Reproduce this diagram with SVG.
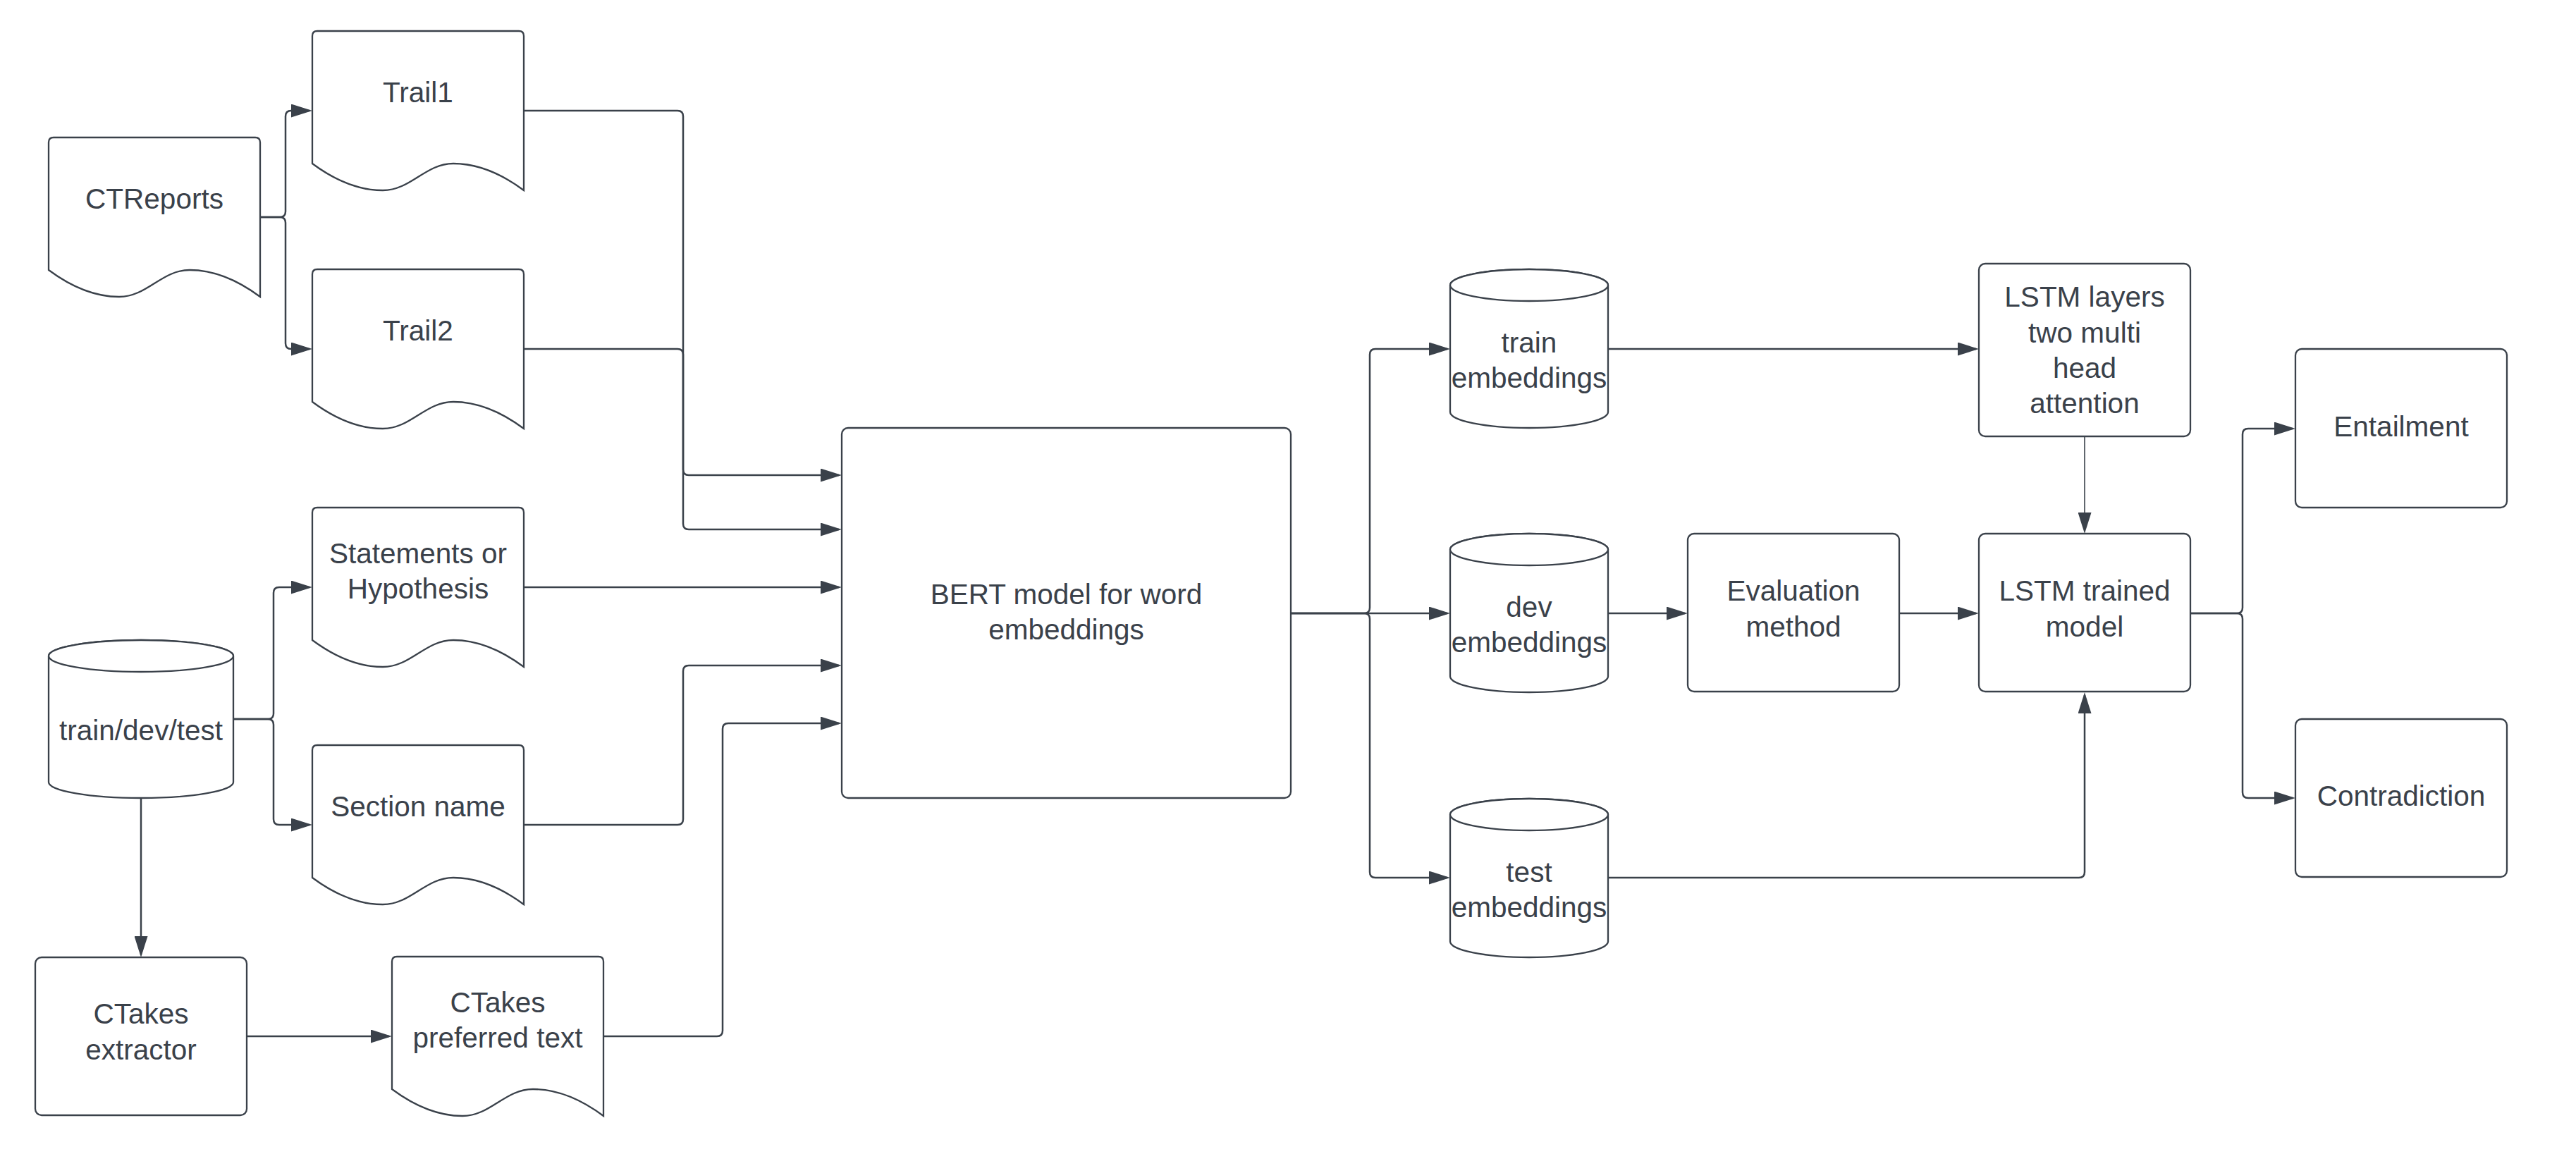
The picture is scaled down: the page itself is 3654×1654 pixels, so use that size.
<svg xmlns="http://www.w3.org/2000/svg" xmlns:xlink="http://www.w3.org/1999/xlink" width="3654" height="1654" viewBox="0 0 3654 1654">
  <style>
    .shape { fill: #ffffff; stroke: #3a414a; stroke-width: 2.3; }
    .conn { fill: none; stroke: #3a414a; stroke-width: 2.5; }
    .thin { stroke-width: 1.6; }
    text { font-family: "Liberation Sans", Arial, sans-serif; font-size: 40.5px; fill: #3a414a; text-anchor: middle; }
  </style>
  <defs>
    <!-- document shape: rounded top, wavy bottom edge (300 wide, 226 tall) -->
    <path id="doc" class="shape" d="M0,188 L0,7 Q0,0 7,0 L293,0 Q300,0 300,7 L300,226 C265,200 230,188 200,188 C160,188 140,226 100,226 C70,226 35,214 0,188 Z"/>
    <marker id="arrow" markerUnits="userSpaceOnUse" markerWidth="30" markerHeight="19" refX="26" refY="9.5" orient="auto">
      <path d="M0,0 L30,9.5 L0,19 Z" fill="#3a414a"/>
    </marker>
  </defs>
  <rect width="3654" height="1654" fill="#ffffff"/>

  <!-- connectors -->
  <g id="connectors">
    <path class="conn" marker-end="url(#arrow)" d="M369,308 L397,308 Q405,308 405,300 L405,165 Q405,157 413,157 L439,157"/>
    <path class="conn" marker-end="url(#arrow)" d="M369,308 L397,308 Q405,308 405,316 L405,487 Q405,495 413,495 L439,495"/>
    <path class="conn" marker-end="url(#arrow)" d="M743,157 L961,157 Q969,157 969,165 L969,743 Q969,751 977,751 L1190,751"/>
    <path class="conn" marker-end="url(#arrow)" d="M743,495 L961,495 Q969,495 969,503 L969,666 Q969,674 977,674 L1190,674"/>
    <path class="conn" marker-end="url(#arrow)" d="M743,833 L1190,833"/>
    <path class="conn" marker-end="url(#arrow)" d="M743,1170 L961,1170 Q969,1170 969,1162 L969,952 Q969,944 977,944 L1190,944"/>
    <path class="conn" marker-end="url(#arrow)" d="M856,1470 L1017,1470 Q1025,1470 1025,1462 L1025,1034 Q1025,1026 1033,1026 L1190,1026"/>
    <path class="conn" marker-end="url(#arrow)" d="M331,1020 L380,1020 Q388,1020 388,1012 L388,841 Q388,833 396,833 L439,833"/>
    <path class="conn" marker-end="url(#arrow)" d="M331,1020 L380,1020 Q388,1020 388,1028 L388,1162 Q388,1170 396,1170 L439,1170"/>
    <path class="conn" marker-end="url(#arrow)" d="M200,1132 L200,1354"/>
    <path class="conn" marker-end="url(#arrow)" d="M350,1470 L552,1470"/>
    <path class="conn" marker-end="url(#arrow)" d="M1831,870 L1935,870 Q1943,870 1943,862 L1943,503 Q1943,495 1951,495 L2053,495"/>
    <path class="conn" marker-end="url(#arrow)" d="M1831,870 L2053,870"/>
    <path class="conn" marker-end="url(#arrow)" d="M1831,870 L1935,870 Q1943,870 1943,878 L1943,1237 Q1943,1245 1951,1245 L2053,1245"/>
    <path class="conn" marker-end="url(#arrow)" d="M2281,495 L2803,495"/>
    <path class="conn thin" marker-end="url(#arrow)" d="M2957,619 L2957,753"/>
    <path class="conn" marker-end="url(#arrow)" d="M2281,870 L2390,870"/>
    <path class="conn" marker-end="url(#arrow)" d="M2694,870 L2803,870"/>
    <path class="conn" marker-end="url(#arrow)" d="M2281,1245 L2949,1245 Q2957,1245 2957,1237 L2957,986"/>
    <path class="conn" marker-end="url(#arrow)" d="M3107,870 L3173,870 Q3181,870 3181,862 L3181,616 Q3181,608 3189,608 L3252,608"/>
    <path class="conn" marker-end="url(#arrow)" d="M3107,870 L3173,870 Q3181,870 3181,878 L3181,1124 Q3181,1132 3189,1132 L3252,1132"/>
  </g>

  <!-- source documents -->
  <g id="ctreports">
    <use xlink:href="#doc" href="#doc" transform="translate(69,195)"/>
    <text x="219" y="296">CTReports</text>
  </g>
  <g id="trail1">
    <use xlink:href="#doc" href="#doc" transform="translate(443,44)"/>
    <text x="593" y="145">Trail1</text>
  </g>
  <g id="trail2">
    <use xlink:href="#doc" href="#doc" transform="translate(443,382)"/>
    <text x="593" y="483">Trail2</text>
  </g>
  <g id="statements">
    <use xlink:href="#doc" href="#doc" transform="translate(443,720)"/>
    <text x="593" y="799">Statements or</text>
    <text x="593" y="849">Hypothesis</text>
  </g>
  <g id="section-name">
    <use xlink:href="#doc" href="#doc" transform="translate(443,1057)"/>
    <text x="593" y="1158">Section name</text>
  </g>
  <g id="ctakes-text">
    <use xlink:href="#doc" href="#doc" transform="translate(556,1357)"/>
    <text x="706" y="1436">CTakes</text>
    <text x="706" y="1486">preferred text</text>
  </g>

  <!-- dataset -->
  <g id="train-dev-test">
    <path class="shape" d="M69,930.5 L69,1109.5 A131,22.5 0 0 0 331,1109.5 L331,930.5 A131,22.5 0 0 0 69,930.5 Z"/>
    <ellipse class="shape" cx="200" cy="930.5" rx="131" ry="22.5"/>
    <text x="200" y="1050">train/dev/test</text>
  </g>

  <g id="ctakes-extractor">
    <rect class="shape" x="50" y="1358" width="300" height="224" rx="9"/>
    <text x="200" y="1452">CTakes</text>
    <text x="200" y="1503">extractor</text>
  </g>

  <g id="bert">
    <rect class="shape" x="1194" y="607" width="637" height="525" rx="9"/>
    <text x="1512.5" y="857">BERT model for word</text>
    <text x="1512.5" y="907">embeddings</text>
  </g>

  <!-- embeddings -->
  <g id="train-embeddings">
    <path class="shape" d="M2057,404.5 L2057,584.5 A112,22.5 0 0 0 2281,584.5 L2281,404.5 A112,22.5 0 0 0 2057,404.5 Z"/>
    <ellipse class="shape" cx="2169" cy="404.5" rx="112" ry="22.5"/>
    <text x="2169" y="500">train</text>
    <text x="2169" y="550">embeddings</text>
  </g>
  <g id="dev-embeddings">
    <path class="shape" d="M2057,779.5 L2057,959.5 A112,22.5 0 0 0 2281,959.5 L2281,779.5 A112,22.5 0 0 0 2057,779.5 Z"/>
    <ellipse class="shape" cx="2169" cy="779.5" rx="112" ry="22.5"/>
    <text x="2169" y="875">dev</text>
    <text x="2169" y="925">embeddings</text>
  </g>
  <g id="test-embeddings">
    <path class="shape" d="M2057,1155.5 L2057,1335.5 A112,22.5 0 0 0 2281,1335.5 L2281,1155.5 A112,22.5 0 0 0 2057,1155.5 Z"/>
    <ellipse class="shape" cx="2169" cy="1155.5" rx="112" ry="22.5"/>
    <text x="2169" y="1251">test</text>
    <text x="2169" y="1301">embeddings</text>
  </g>

  <!-- model stages -->
  <g id="lstm-layers">
    <rect class="shape" x="2807" y="374" width="300" height="245" rx="9"/>
    <text x="2957" y="435">LSTM layers</text>
    <text x="2957" y="486">two multi</text>
    <text x="2957" y="536">head</text>
    <text x="2957" y="586">attention</text>
  </g>
  <g id="evaluation">
    <rect class="shape" x="2394" y="757" width="300" height="224" rx="9"/>
    <text x="2544" y="852">Evaluation</text>
    <text x="2544" y="903">method</text>
  </g>
  <g id="lstm-trained">
    <rect class="shape" x="2807" y="757" width="300" height="224" rx="9"/>
    <text x="2957" y="852">LSTM trained</text>
    <text x="2957" y="903">model</text>
  </g>

  <!-- outcomes -->
  <g id="entailment">
    <rect class="shape" x="3256" y="495" width="300" height="225" rx="9"/>
    <text x="3406" y="619">Entailment</text>
  </g>
  <g id="contradiction">
    <rect class="shape" x="3256" y="1020" width="300" height="224" rx="9"/>
    <text x="3406" y="1143">Contradiction</text>
  </g>
</svg>
